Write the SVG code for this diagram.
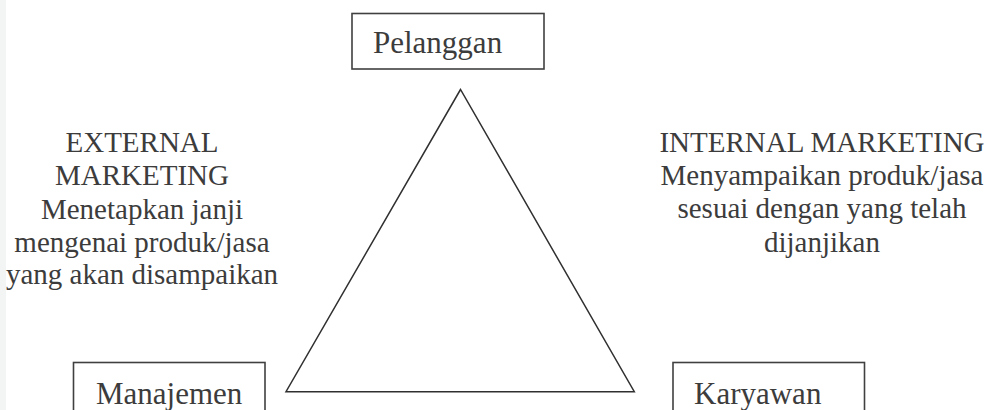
<svg xmlns="http://www.w3.org/2000/svg" width="990" height="410" viewBox="0 0 990 410">
<style>
.box{fill:#fff;stroke:#404040;stroke-width:1.6}
.nt{font-family:"Liberation Serif","Times New Roman",serif;font-size:31px;fill:#3c3c3c}
.lb{font-family:"Liberation Serif","Times New Roman",serif;font-size:29px;fill:#3c3c3c;text-anchor:middle}
.edge{fill:none;stroke:#303030;stroke-width:1.5;stroke-linejoin:miter}
</style>
<rect x="0" y="0" width="990" height="410" fill="#fff"/>
<rect x="0" y="0" width="6" height="410" fill="#f3f4f4"/>
<g id="connectors">
<polygon class="edge" points="460.5,89.5 286,391.7 634.3,391.7"/>
</g>
<g id="pelanggan">
<rect class="box" x="352" y="13.5" width="192" height="55.5"/>
<text class="nt" x="373" y="53">Pelanggan</text>
</g>
<g id="manajemen">
<rect class="box" x="73.5" y="362.5" width="191.5" height="60"/>
<text class="nt" x="96" y="404">Manajemen</text>
</g>
<g id="karyawan">
<rect class="box" x="673" y="362.5" width="191.5" height="60"/>
<text class="nt" x="694" y="404">Karyawan</text>
</g>
<g id="external-marketing">
<text class="lb" x="142" y="152">EXTERNAL</text>
<text class="lb" x="142" y="185">MARKETING</text>
<text class="lb" x="142" y="219">Menetapkan janji</text>
<text class="lb" x="142" y="252">mengenai produk/jasa</text>
<text class="lb" x="142" y="284">yang akan disampaikan</text>
</g>
<g id="internal-marketing">
<text class="lb" x="822" y="152">INTERNAL MARKETING</text>
<text class="lb" x="822" y="185">Menyampaikan produk/jasa</text>
<text class="lb" x="822" y="218">sesuai dengan yang telah</text>
<text class="lb" x="822" y="252">dijanjikan</text>
</g>
</svg>
